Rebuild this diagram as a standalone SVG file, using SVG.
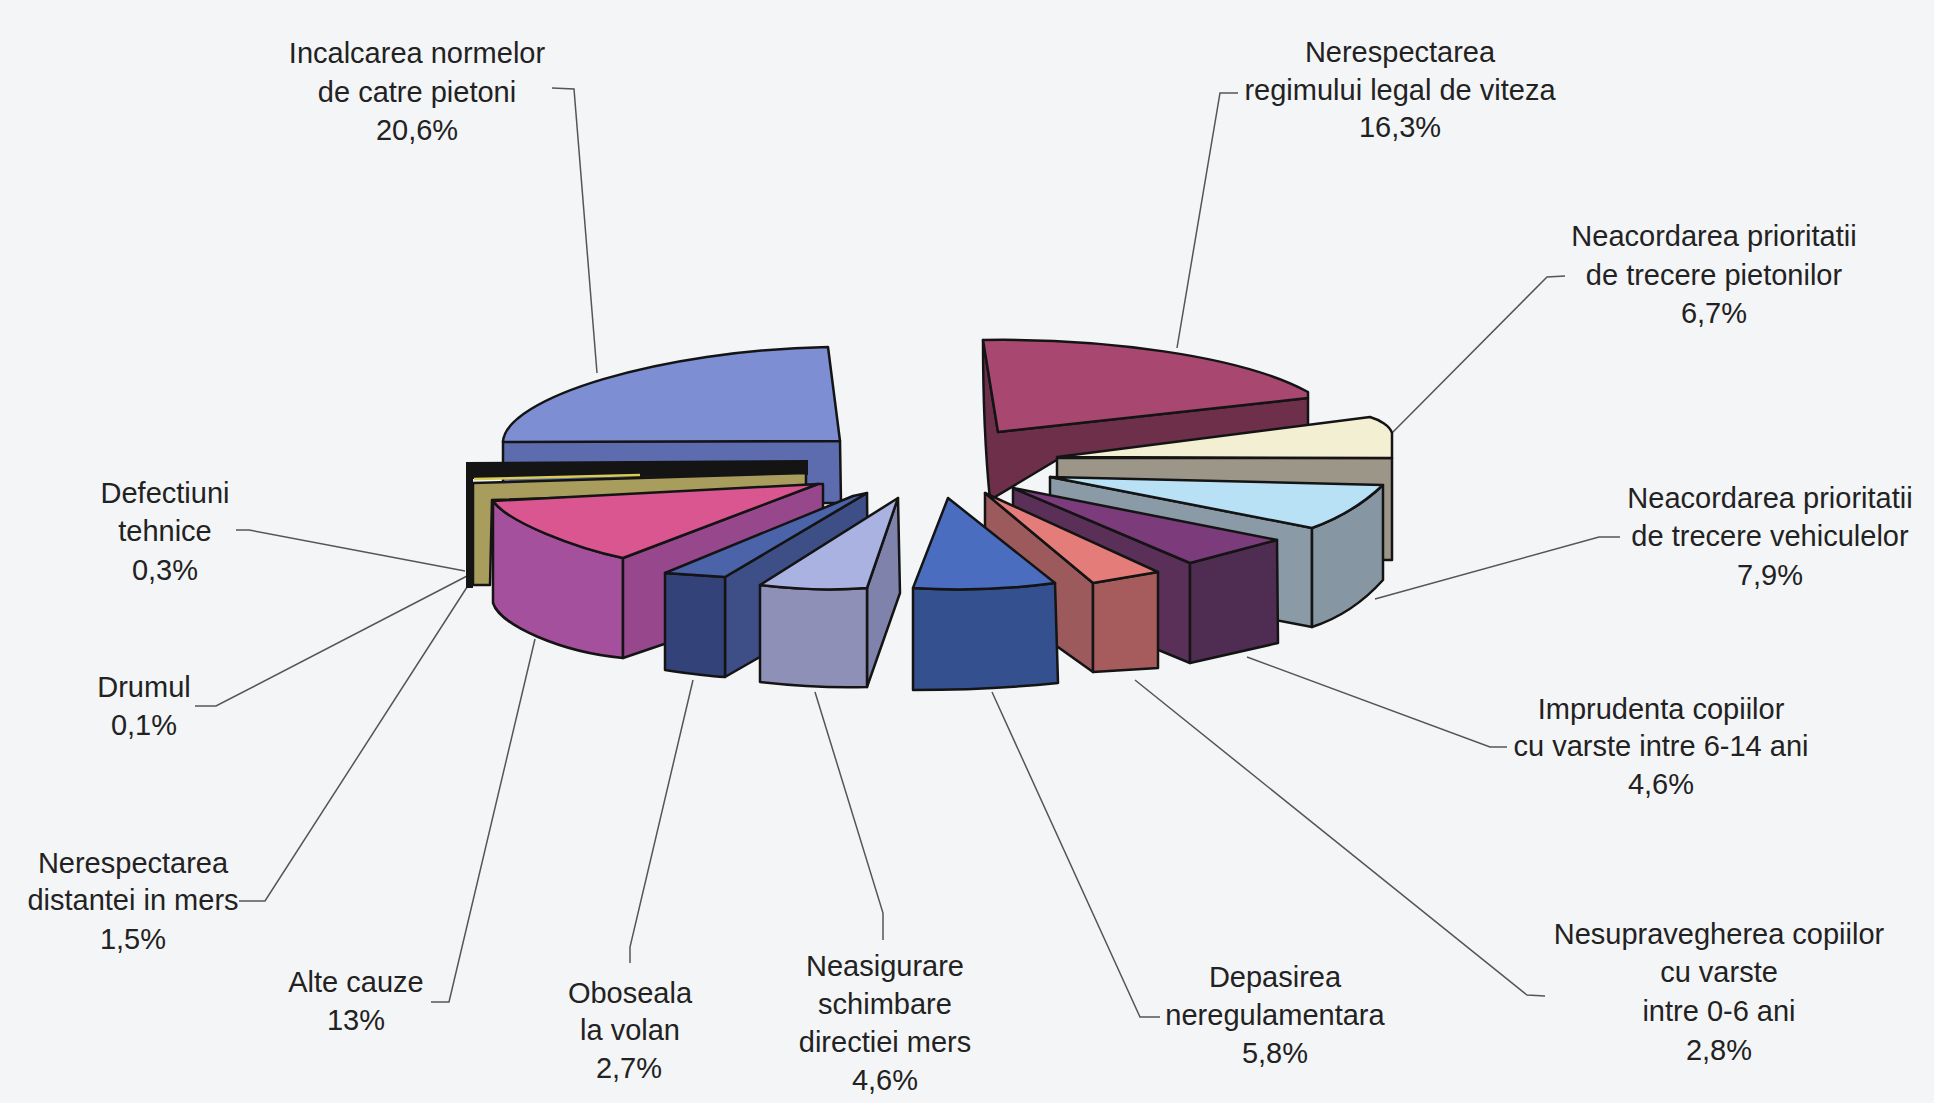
<svg xmlns="http://www.w3.org/2000/svg" width="1934" height="1103" viewBox="0 0 1934 1103">
<defs><style>
.s{stroke:#141414;stroke-width:2.5;stroke-linejoin:round}
.t{font-family:"Liberation Sans",Arial,sans-serif;font-size:29px;fill:#222;text-anchor:middle}
.c{fill:none;stroke:#555;stroke-width:1.5}
</style></defs>
<rect width="1934" height="1103" fill="#f4f5f7"/>
<g id="connectors" class="c">
<path d="M552,88 L574,89 L597,373"/>
<path d="M1238,93 L1220,93 L1177,348"/>
<path d="M1565,276 L1547,277 L1392,433"/>
<path d="M1620,537 L1599,537 L1375,599"/>
<path d="M1507,747 L1490,747 L1247,657"/>
<path d="M1545,996 L1527,995 L1135,680"/>
<path d="M1160,1017 L1140,1017 L992,692"/>
<path d="M883,940 L883,913 L815,692"/>
<path d="M630,963 L630,947 L693,680"/>
<path d="M431,1002 L449,1002 L535,639"/>
<path d="M239,901 L265,901 L469,584"/>
<path d="M195,706 L216,706 L469,575"/>
<path d="M236,530 L249,530 L465,571"/>
</g>
<g id="incalcarea">
<path class="s" fill="#5c6cae" d="M503,441 L840,441 L841,503 L503,503 Z"/>
<path class="s" fill="#7d8ed2" d="M503,442 C505,398 660,350 828,347 L840,441 Z"/>
<text class="t" x="417" y="63">Incalcarea normelor</text>
<text class="t" x="417" y="102">de catre pietoni</text>
<text class="t" x="417" y="140">20,6%</text>
</g>
<g id="defectiuni">
<path fill="#141414" d="M466,462 L808,460 L808,475 L473,479 L473,588 L466,588 Z"/>
<text class="t" x="165" y="503">Defectiuni</text>
<text class="t" x="165" y="541">tehnice</text>
<text class="t" x="165" y="580">0,3%</text>
</g>
<g id="drumul">
<path fill="none" stroke="#d9cb55" stroke-width="2.5" d="M474,479 L640,475"/>
<text class="t" x="144" y="697">Drumul</text>
<text class="t" x="144" y="735">0,1%</text>
</g>
<g id="distantei">
<path class="s" fill="#a99d5e" stroke-width="2" d="M473,483 L806,473 L806,490 L492,500 L490,585 L473,585 Z"/>
<text class="t" x="133" y="873">Nerespectarea</text>
<text class="t" x="133" y="910">distantei in mers</text>
<text class="t" x="133" y="949">1,5%</text>
</g>
<g id="alte-cauze">
<path class="s" fill="#a5509c" d="M493,501 L493,603 C500,625 560,652 623,658 L623,558 C575,548 508,522 493,501 Z"/>
<path class="s" fill="#97478c" d="M623,558 L818,484 L823,484 L823,590 L623,658 Z"/>
<path class="s" fill="#d95690" d="M493,501 L818,484 L623,558 C575,548 508,522 493,501 Z"/>
<text class="t" x="356" y="992">Alte cauze</text>
<text class="t" x="356" y="1030">13%</text>
</g>
<g id="oboseala">
<path class="s" fill="#3d4f86" d="M725,577 L867,493 L868,595 L725,677 Z"/>
<path class="s" fill="#33437a" d="M665,573 L725,577 L725,677 C705,676 685,673 665,670 Z"/>
<path class="s" fill="#4b63a8" d="M665,573 L853,496 L867,493 L725,577 Z"/>
<text class="t" x="630" y="1003">Oboseala</text>
<text class="t" x="630" y="1040">la volan</text>
<text class="t" x="629" y="1078">2,7%</text>
</g>
<g id="neasigurare">
<path class="s" fill="#7f83ab" d="M867,588 L898,498 L900,593 L867,687 Z"/>
<path class="s" fill="#8e90b8" d="M760,585 C800,590 840,590 867,588 L867,687 C830,688 795,686 760,682 Z"/>
<path class="s" fill="#aab2e2" d="M760,585 L898,498 L867,588 C840,590 800,590 760,585 Z"/>
<text class="t" x="885" y="976">Neasigurare</text>
<text class="t" x="885" y="1014">schimbare</text>
<text class="t" x="885" y="1052">directiei mers</text>
<text class="t" x="885" y="1090">4,6%</text>
</g>
<g id="regim-viteza">
<path class="s" fill="#6e2f4a" d="M983,340 L998,432 L1308,398 L1308,440 L1060,458 L990,500 C985,450 983,390 983,340 Z"/>
<path class="s" fill="#a84870" d="M983,340 C1100,338 1240,355 1308,392 L1308,398 L998,432 Z"/>
<text class="t" x="1400" y="62">Nerespectarea</text>
<text class="t" x="1400" y="100">regimului legal de viteza</text>
<text class="t" x="1400" y="137">16,3%</text>
</g>
<g id="prioritate-pietoni">
<path class="s" fill="#9c9688" d="M1057,458 L1392,458 L1392,560 L1057,558 Z"/>
<path class="s" fill="#f3efd2" d="M1057,457 L1370,417 C1380,420 1390,426 1392,433 L1392,458 Z"/>
<text class="t" x="1714" y="246">Neacordarea prioritatii</text>
<text class="t" x="1714" y="285">de trecere pietonilor</text>
<text class="t" x="1714" y="323">6,7%</text>
</g>
<g id="prioritate-vehicule">
<path class="s" fill="#8a9aa6" d="M1050,477 L1312,528 L1312,627 L1050,577 Z"/>
<path class="s" fill="#8696a2" d="M1312,528 C1340,518 1365,502 1383,485 L1383,580 C1365,600 1340,618 1312,627 Z"/>
<path class="s" fill="#b9e1f5" d="M1050,477 L1383,485 C1365,502 1340,518 1312,528 Z"/>
<text class="t" x="1770" y="508">Neacordarea prioritatii</text>
<text class="t" x="1770" y="546">de trecere vehiculelor</text>
<text class="t" x="1770" y="585">7,9%</text>
</g>
<g id="imprudenta">
<path class="s" fill="#5a3058" d="M1013,488 L1190,563 L1190,663 L1013,590 Z"/>
<path class="s" fill="#4f2c52" d="M1190,563 L1277,540 L1278,643 L1190,663 Z"/>
<path class="s" fill="#7c3c7c" d="M1013,488 L1277,540 L1190,563 Z"/>
<text class="t" x="1661" y="719">Imprudenta copiilor</text>
<text class="t" x="1661" y="756">cu varste intre 6-14 ani</text>
<text class="t" x="1661" y="794">4,6%</text>
</g>
<g id="nesupraveghere">
<path class="s" fill="#9d5a5c" d="M985,493 L1093,583 L1093,672 L985,595 Z"/>
<path class="s" fill="#a65c5c" d="M1093,583 L1158,572 L1158,668 L1093,672 Z"/>
<path class="s" fill="#e47c7a" d="M985,493 L1158,572 L1093,583 Z"/>
<text class="t" x="1719" y="944">Nesupravegherea copiilor</text>
<text class="t" x="1719" y="982">cu varste</text>
<text class="t" x="1719" y="1021">intre 0-6 ani</text>
<text class="t" x="1719" y="1060">2,8%</text>
</g>
<g id="depasirea">
<path class="s" fill="#34508e" d="M913,588 C960,591 1010,589 1055,583 L1058,683 C1010,688 960,690 913,690 Z"/>
<path class="s" fill="#4b6dc0" d="M948,498 L1055,583 C1010,589 960,591 913,588 Z"/>
<text class="t" x="1275" y="987">Depasirea</text>
<text class="t" x="1275" y="1025">neregulamentara</text>
<text class="t" x="1275" y="1063">5,8%</text>
</g>
</svg>
